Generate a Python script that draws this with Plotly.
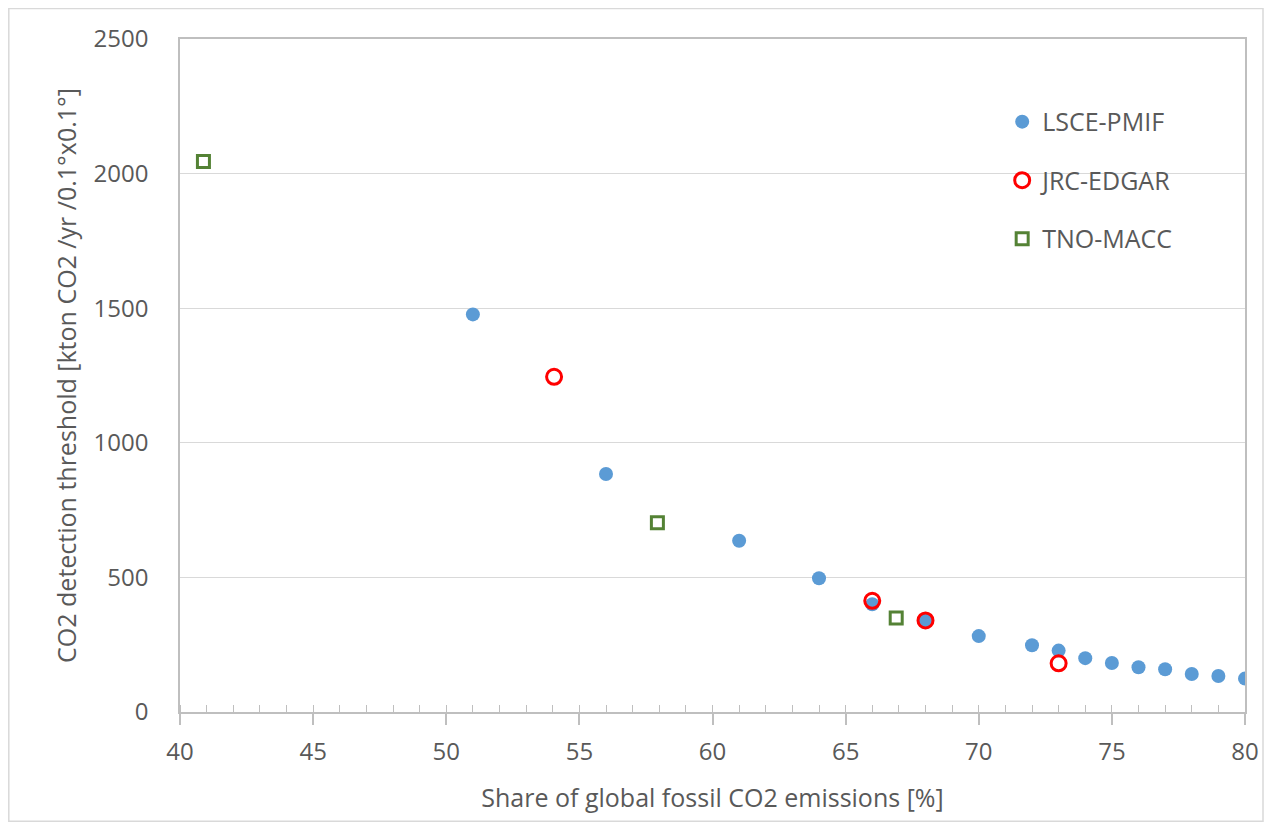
import plotly.graph_objects as go

# Data
lsce_x = [51, 56, 61, 64, 66, 68, 70, 72, 73, 74, 75, 76, 77, 78, 79, 80]
lsce_y = [1477, 884, 636, 497, 400, 340, 282, 248, 228, 200, 182, 166, 159, 141, 134, 124]
jrc_x = [54.05, 66, 68, 73]
jrc_y = [1245, 413, 340, 181]
tno_x = [40.88, 57.93, 66.9]
tno_y = [2045, 703, 349]

names = ["LSCE-PMIF", "JRC-EDGAR", "TNO-MACC"]
x_ticks = [40, 45, 50, 55, 60, 65, 70, 75, 80]
y_ticks = [0, 500, 1000, 1500, 2000, 2500]

FONT = "Open Sans"
TXT = "#595959"
AX = "#BFBFBF"

fig = go.Figure()
fig.add_trace(go.Scatter(x=lsce_x, y=lsce_y, mode="markers", name=names[0], legendgroup="a",
                         marker=dict(symbol="circle", size=14, color="#5B9BD5")))
fig.add_trace(go.Scatter(x=jrc_x, y=jrc_y, mode="markers", name=names[1], legendgroup="b",
                         marker=dict(symbol="circle-open", size=15, color="#FF0000",
                                     line=dict(width=3, color="#FF0000"))))
fig.add_trace(go.Scatter(x=tno_x, y=tno_y, mode="markers", name=names[2], legendgroup="c",
                         marker=dict(symbol="square", size=12, color="white",
                                     line=dict(width=3, color="#548235"))))

PW, PH = 1065, 673  # plot area size in px

fig.update_layout(
    width=1257, height=814,
    margin=dict(l=172, r=20, t=31, b=110, autoexpand=False),
    paper_bgcolor="white", plot_bgcolor="white",
    font=dict(family=FONT, size=24, color=TXT),
    showlegend=True,
    legend=dict(x=0.772, y=0.911, xanchor="left", yanchor="top",
                bgcolor="rgba(0,0,0,0)", tracegroupgap=23,
                font=dict(family=FONT, size=25, color=TXT), itemwidth=30),
    xaxis=dict(range=[40, 80], tickvals=x_ticks, ticktext=[str(v) for v in x_ticks],
               automargin=False,
               showgrid=False, zeroline=False,
               showline=True, linecolor=AX, linewidth=1.5, mirror=True,
               ticks="outside", ticklen=11, tickcolor=AX, tickwidth=1.5,
               ticklabelstandoff=6,
               minor=dict(dtick=1, ticks="inside", ticklen=7, tickcolor=AX, tickwidth=1.2),
               tickfont=dict(size=24, color=TXT),
               title=dict(text="Share of global fossil CO2 emissions [%]", standoff=24,
                          font=dict(size=25, color=TXT))),
    xaxis2=dict(range=[40, 80], overlaying="x", side="bottom", anchor="y",
                tickvals=x_ticks, showticklabels=False, automargin=False,
                showgrid=False, zeroline=False, showline=False,
                ticks="inside", ticklen=8, tickcolor=AX, tickwidth=1.5),
    yaxis=dict(range=[0, 2500], tickvals=y_ticks, ticktext=[str(v) for v in y_ticks],
               automargin=False,
               showgrid=True, gridcolor="#D9D9D9", gridwidth=1.2, zeroline=False,
               showline=True, linecolor=AX, linewidth=1.5, mirror=True,
               ticks="", ticklabelstandoff=25,
               tickfont=dict(size=24, color=TXT),
               title=dict(text="CO2 detection threshold [kton CO2 /yr /0.1°x0.1°]", standoff=10,
                          font=dict(size=25, color=TXT))),
    shapes=[dict(type="rect", xref="paper", yref="paper",
                 x0=-171.2 / PW, x1=1083 / PW, y0=-109.2 / PH, y1=703.5 / PH,
                 line=dict(color="#D9D9D9", width=1.5), fillcolor="rgba(0,0,0,0)", layer="below")],
)

fig.write_html("out.html")
